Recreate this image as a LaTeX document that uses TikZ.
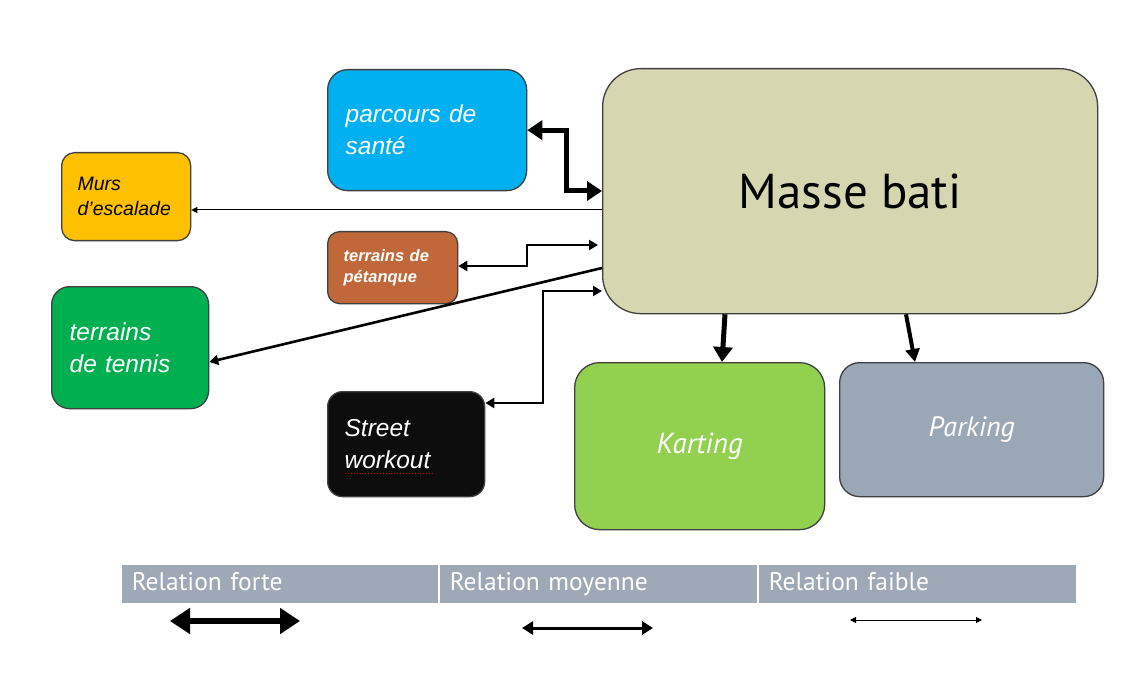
\documentclass[tikz,border=0pt]{standalone}
\usepackage{fontspec}
\setmainfont{Liberation Sans}
\newfontfamily\ptsans{PT Sans}
\usetikzlibrary{arrows.meta}
\definecolor{bordc}{HTML}{404040}
\definecolor{massec}{HTML}{D6D7B0}
\definecolor{parcoursc}{HTML}{00B0F0}
\definecolor{mursc}{HTML}{FFC000}
\definecolor{petanquec}{HTML}{C0683A}
\definecolor{tennisc}{HTML}{00B050}
\definecolor{streetc}{HTML}{0D0D0D}
\definecolor{kartingc}{HTML}{92D050}
\definecolor{parkingc}{HTML}{9AA7B6}
\definecolor{legendc}{HTML}{9EA8B6}
\tikzset{
  box/.style={draw=bordc, line width=1.3pt, anchor=north west, inner ysep=0pt},
  lbox/.style={box, align=left},
  cell/.style={draw=white, line width=1.5pt, fill=legendc, anchor=north west, inner ysep=0pt, inner xsep=11pt, text=white,
               text height=18pt, text depth=5pt, font={\ptsans\fontsize{25.5}{28}\selectfont}},
  strongarrow/.style={line width=5pt, arrows={-Triangle[length=15pt,width=19pt]}},
  strongboth/.style={line width=5pt, arrows={Triangle[length=15pt,width=19pt]-Triangle[length=15pt,width=19pt]}},
  mediumarrow/.style={line width=2.6pt, arrows={-Triangle[length=9pt,width=10pt]}},
  mediumboth/.style={line width=2.6pt, arrows={Triangle[length=9pt,width=10pt]-Triangle[length=9pt,width=10pt]}},
  weakarrow/.style={line width=1pt, arrows={-Triangle[length=6pt,width=6pt]}},
}
\begin{document}
\begin{tikzpicture}[x=1pt,y=-1pt]
\useasboundingbox[fill=white] (0,0) rectangle (1135,687);

% boxes
\node[box, fill=massec, rounded corners=38pt, minimum width=495pt, minimum height=245pt,
      font={\ptsans\fontsize{49}{56}\selectfont}] (masse) at (602,68) {Masse bati};
\node[lbox, fill=parcoursc, rounded corners=20pt, text width=163pt, inner xsep=18pt, minimum height=121pt, text=white,
      font={\fontsize{24.5}{32}\selectfont\itshape}] (parcours) at (327,69) {parcours de\\santé};
\node[lbox, fill=mursc, rounded corners=13pt, text width=97pt, inner xsep=16pt, minimum height=88pt, text=black,
      font={\fontsize{19.5}{25}\selectfont\itshape}] (murs) at (61,152) {Murs\\d'escalade};
\node[lbox, fill=petanquec, rounded corners=12pt, text width=98pt, inner xsep=16pt, minimum height=72pt, text=white,
      font={\fontsize{16.5}{21}\selectfont\bfseries\itshape}] (petanque) at (327,231) {terrains de\\pétanque};
\node[lbox, fill=tennisc, rounded corners=18pt, text width=121pt, inner xsep=18pt, minimum height=122pt, text=white,
      font={\fontsize{24.5}{32}\selectfont\itshape}] (tennis) at (51,286) {terrains\\de tennis};
\node[lbox, fill=streetc, rounded corners=15pt, text width=123pt, inner xsep=17pt, minimum height=105pt, text=white,
      font={\fontsize{24.5}{32}\selectfont\itshape}] (street) at (327,391) {Street\\workout};
\node[box, fill=kartingc, rounded corners=25pt, minimum width=250pt, minimum height=167pt, text=white,
      font={\ptsans\fontsize{29}{32}\selectfont\itshape}] (karting) at (574,362) {\raisebox{-3pt}{Karting}};
\node[box, fill=parkingc, rounded corners=20pt, minimum width=264pt, minimum height=134pt, text=white,
      font={\ptsans\fontsize{28}{32}\selectfont\itshape}] (parking) at (839,362) {\raisebox{-3pt}{Parking}};

% spell-check underline under "workout"
\draw[red!80!black, line width=0.9pt, dotted] (345,473) -- (434,473);

% connectors
\draw[strongboth] (parcours.east) -- ++(39,0) |- (masse.west |- 0,191);
\draw[weakarrow] (masse.west |- 0,210) -- (murs.east |- 0,210);
\draw[mediumboth] (petanque.east |- 0,266) -- (527,266) |- ([xshift=-4pt]masse.west |- 0,245);
\draw[mediumarrow] (masse.west |- 0,268) -- (tennis.east |- 0,362);
\draw[mediumboth] (street.east |- 0,403) -- (543,403) |- (masse.west |- 0,291);
\draw[strongarrow] (masse.south -| 725,0) -- (karting.north -| 722,0);
\draw[line width=4pt, arrows={-Triangle[length=13pt,width=14pt]}] (masse.south -| 906,0) -- (parking.north -| 915,0);

% legend
\node[cell, text width=296pt, minimum height=40pt] (c1) at (120,563) {Relation forte};
\node[cell, text width=297pt, minimum height=40pt] (c2) at (438,563) {Relation moyenne};
\node[cell, text width=297pt, minimum height=40pt] (c3) at (757,563) {Relation faible};

\coordinate (s1) at (170,621);
\coordinate (s2) at (300,621);
\coordinate (m1) at (522,628);
\coordinate (m2) at (653,628);
\coordinate (w1) at (850,620);
\coordinate (w2) at (982,620);
\draw[line width=6pt, arrows={Triangle[length=20pt,width=25pt]-Triangle[length=20pt,width=25pt]}] (s1) -- (s2);
\draw[line width=3pt, arrows={Triangle[length=11pt,width=13pt]-Triangle[length=11pt,width=13pt]}] (m1) -- (m2);
\draw[line width=1pt, arrows={Triangle[length=6pt,width=6pt]-Triangle[length=6pt,width=6pt]}] (w1) -- (w2);
\end{tikzpicture}
\end{document}
